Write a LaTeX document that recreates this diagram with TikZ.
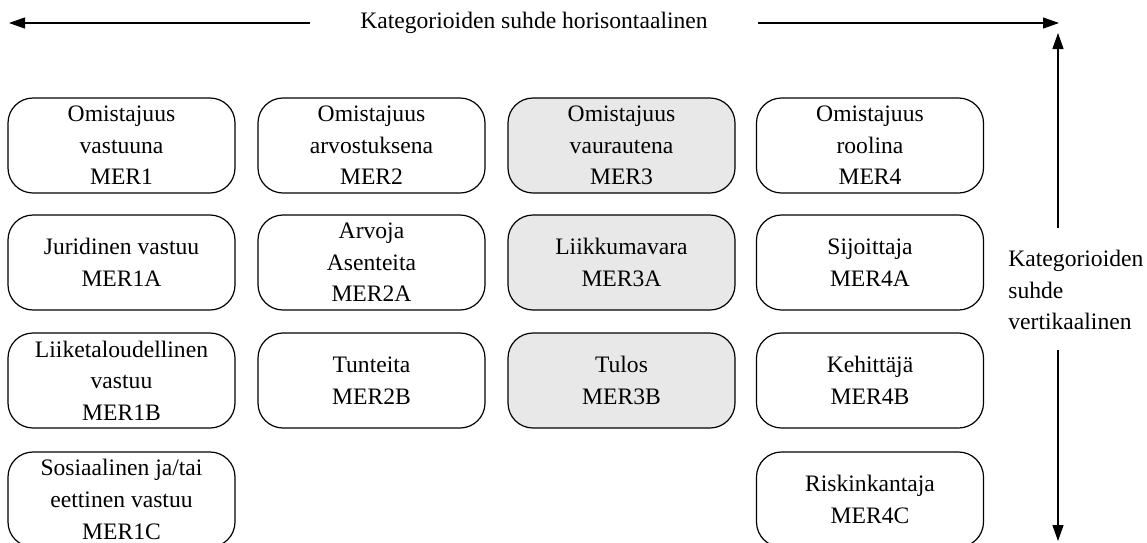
\documentclass[tikz,border=0pt]{standalone}
\usepackage{fontspec}
\setmainfont{Liberation Serif}
\usetikzlibrary{arrows.meta}
\begin{document}
\begin{tikzpicture}[x=0.5pt,y=-0.5pt,>={Triangle[length=8pt,width=5.5pt]},
  txt/.style={font=\fontsize{11.8pt}{15.8pt}\selectfont},
  cat/.style={txt,draw,line width=0.6pt,rounded corners=12.5pt,minimum width=113.5pt,minimum height=47.5pt,align=center,inner sep=0pt},
  catg/.style={cat,fill=black!9}]
\useasboundingbox (0,0) rectangle (1147,542);

% Horizontal relation
\node[txt,inner xsep=25pt,inner ysep=0pt] (hlabel) at (534,23) {Kategorioiden suhde horisontaalinen};
\coordinate (hl) at (9,23);
\coordinate (hr) at (1059,23);
\draw[->,line width=0.6pt] (hlabel.west) -- (hl);
\draw[->,line width=0.6pt] (hlabel.east) -- (hr);

% Vertical relation
\node[txt,anchor=north west,align=left,inner sep=0pt] (vlabel) at (1008,250) {Kategorioiden\\suhde\\vertikaalinen};
\coordinate (vu) at (1058,228);
\coordinate (vt) at (1058,33);
\coordinate (vd) at (1058,350);
\coordinate (vb) at (1058,541);
\draw[->,line width=0.6pt] (vu) -- (vt);
\draw[->,line width=0.6pt] (vd) -- (vb);

% MER1
\node[cat] (mer1) at (121.5,145.5) {Omistajuus\\vastuuna\\MER1};
\node[cat] (mer1a) at (121.5,262.5) {Juridinen vastuu\\MER1A};
\node[cat] (mer1b) at (121.5,380.5) {Liiketaloudellinen\\vastuu\\MER1B};
\node[cat] (mer1c) at (121.5,499.5) {Sosiaalinen ja/tai\\eettinen vastuu\\MER1C};

% MER2
\node[cat] (mer2) at (371.5,145.5) {Omistajuus\\arvostuksena\\MER2};
\node[cat] (mer2a) at (371.5,262.5) {Arvoja\\Asenteita\\MER2A};
\node[cat] (mer2b) at (371.5,380.5) {Tunteita\\MER2B};

% MER3 (shaded)
\node[catg] (mer3) at (621.5,145.5) {Omistajuus\\vaurautena\\MER3};
\node[catg] (mer3a) at (621.5,262.5) {Liikkumavara\\MER3A};
\node[catg] (mer3b) at (621.5,380.5) {Tulos\\MER3B};

% MER4
\node[cat] (mer4) at (870,145.5) {Omistajuus\\roolina\\MER4};
\node[cat] (mer4a) at (870,262.5) {Sijoittaja\\MER4A};
\node[cat] (mer4b) at (870,380.5) {Kehittäjä\\MER4B};
\node[cat] (mer4c) at (870,499.5) {Riskinkantaja\\MER4C};
\end{tikzpicture}
\end{document}
